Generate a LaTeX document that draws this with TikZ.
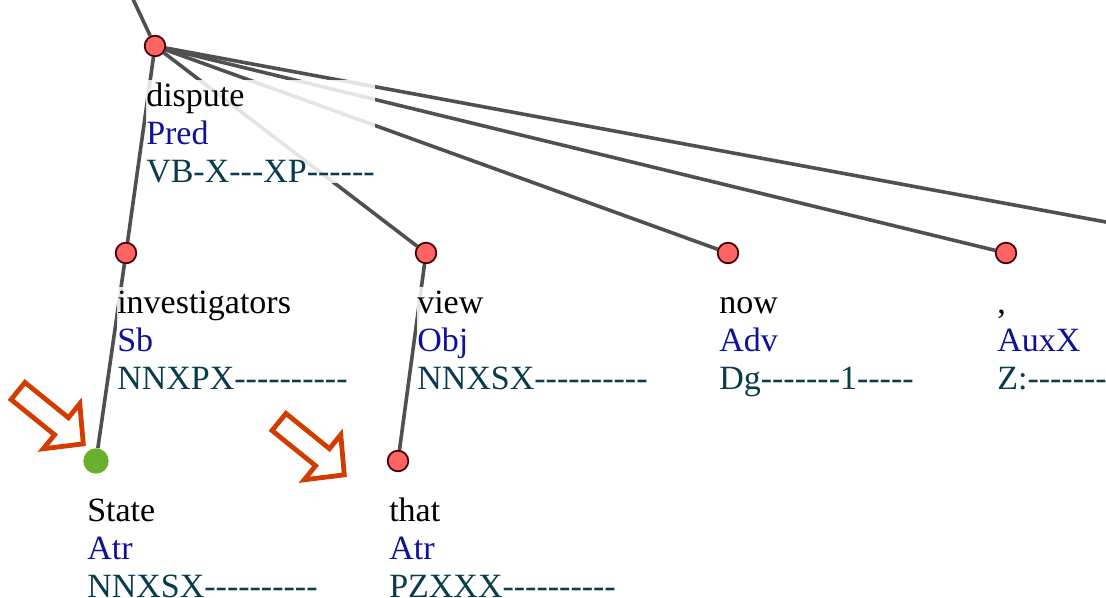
\documentclass[tikz,border=0pt]{standalone}
\usepackage{fontspec}
\setmainfont{Liberation Serif}[Ligatures=TeXOff]
\usetikzlibrary{positioning}
\definecolor{nodered}{HTML}{FF6464}
\definecolor{nodegreen}{HTML}{6AAF2E}
\definecolor{edgegray}{HTML}{505050}
\definecolor{afunblue}{HTML}{10109C}
\definecolor{tagteal}{HTML}{083C4C}
\definecolor{markred}{HTML}{D23C00}
\pgfdeclarelayer{background}
\pgfsetlayers{background,main}
\newcommand{\treelabel}[3]{\strut #1\\\textcolor{afunblue}{#2}\\\textcolor{tagteal}{#3}}
\newcommand{\calloutarrow}[1]{\draw[marker,shift={#1},rotate=-39] (0,-11) -- (56,-11) -- (56,-29) -- (84,0) -- (56,29) -- (56,11) -- (0,11) -- cycle;}

\begin{document}
\begin{tikzpicture}[x=0.75pt,y=-0.75pt,
  tnode/.style={circle,draw=black!75!red,line width=1.3pt,fill=nodered,minimum size=15.5pt,inner sep=0pt},
  gnode/.style={circle,fill=nodegreen,minimum size=19pt,inner sep=0pt},
  edge/.style={edgegray,line width=2.7pt},
  lbl/.style={align=left,inner sep=0pt,fill=white,fill opacity=0.85,text opacity=1,font=\fontsize{25.5}{28.5}\selectfont},
  marker/.style={draw=markred,line width=3.6pt,line join=miter}]
\useasboundingbox (0,0) rectangle (1106,598);

% tree
\coordinate (up) at (124,-20);
\coordinate (offright) at (1160,232);
\node[tnode] (dispute) at (155,46) {};
\node[tnode] (investigators) at (126,253) {};
\node[tnode] (view) at (426,253) {};
\node[tnode] (now) at (728,253) {};
\node[tnode] (comma) at (1006,253) {};
\node[gnode] (state) at (96,461) {};
\node[tnode] (that) at (398,461) {};

\node[lbl,below right=25pt and -6.75pt of dispute.center] (disputelbl) {\treelabel{dispute}{Pred}{VB-X---XP------}};
\node[lbl,below right=25pt and -6.75pt of investigators.center] (investigatorslbl) {\treelabel{investigators}{Sb}{NNXPX----------}};
\node[lbl,below right=25pt and -6.75pt of view.center] (viewlbl) {\treelabel{view}{Obj}{NNXSX----------}};
\node[lbl,below right=25pt and -6.75pt of now.center] (nowlbl) {\treelabel{now}{Adv}{Dg-------1-----}};
\node[lbl,below right=25pt and -6.75pt of comma.center] (commalbl) {\treelabel{,}{AuxX}{Z:-------------}};
\node[lbl,below right=25pt and -6.75pt of state.center] (statelbl) {\treelabel{State}{Atr}{NNXSX----------}};
\node[lbl,below right=25pt and -6.75pt of that.center] (thatlbl) {\treelabel{that}{Atr}{PZXXX----------}};

\begin{pgfonlayer}{background}
\draw[edge] (up) -- (dispute);
\draw[edge] (dispute) -- (offright);
\draw[edge] (dispute) -- (investigators);
\draw[edge] (dispute) -- (view);
\draw[edge] (dispute) -- (now);
\draw[edge] (dispute) -- (comma);
\draw[edge] (investigators) -- (state);
\draw[edge] (view) -- (that);
\end{pgfonlayer}

% markers
\calloutarrow{(18,391)}
\calloutarrow{(279,422)}
\end{tikzpicture}
\end{document}
